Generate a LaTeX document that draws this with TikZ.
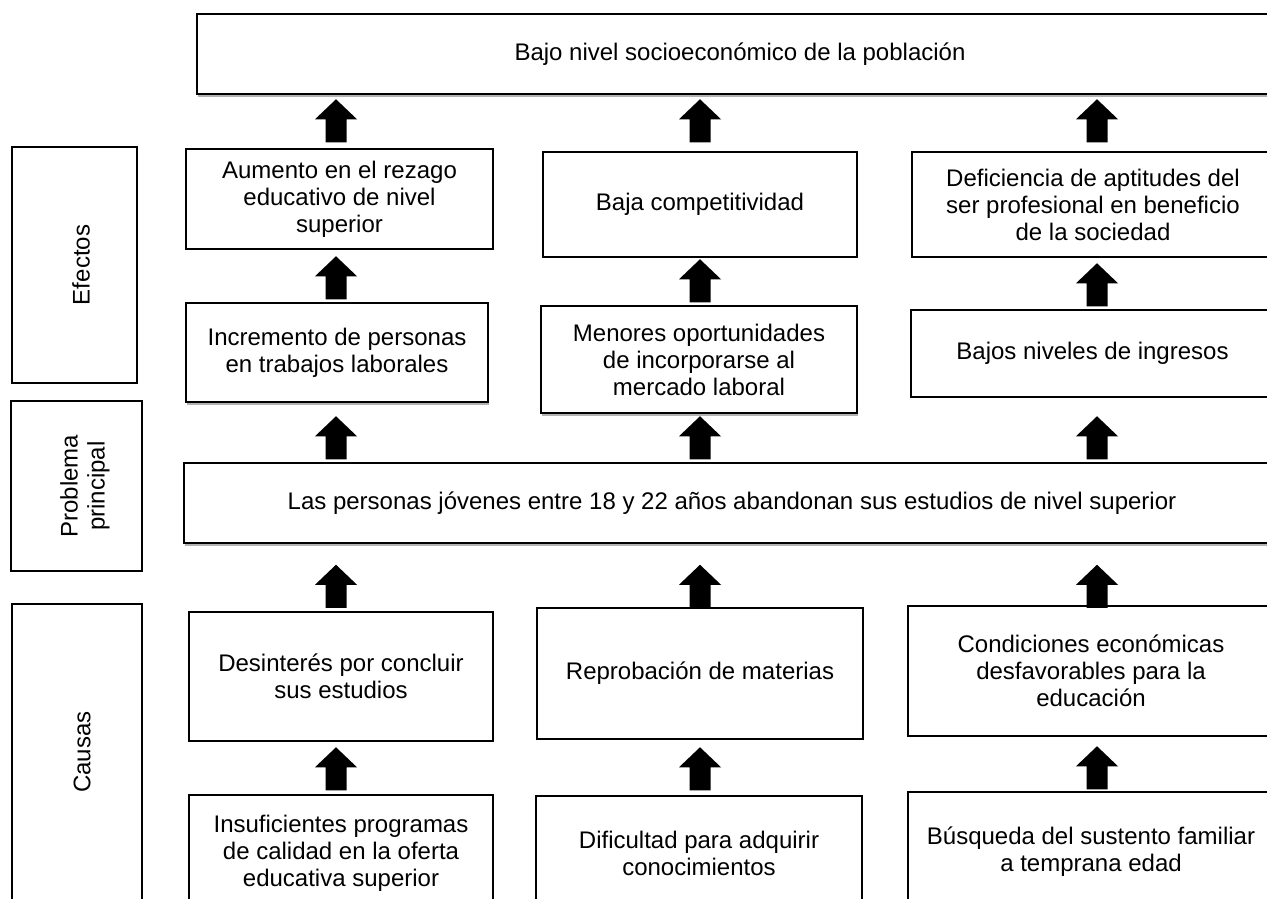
\documentclass[tikz,border=0pt]{standalone}
\usepackage{fontspec}
\setmainfont{Liberation Sans}
\usetikzlibrary{shadows}
\begin{document}
\begin{tikzpicture}[x=1pt,y=-1pt,
  txt/.style={align=center, inner sep=0pt, font=\fontsize{24}{27}\selectfont},
  box/.style={txt, draw, line width=1.5pt, fill=white},
  shad/.style={drop shadow={shadow xshift=1pt, shadow yshift=-3pt, opacity=0.3, fill=black}},
  side/.style={draw, line width=1.5pt, fill=white, inner sep=0pt},
  sidetext/.style={txt, rotate=90},
  blockarrow/.pic={\fill (-10.5pt,0pt) -- (-10.5pt,23pt) -- (-21pt,23pt) -- (0pt,43pt)
      -- (21pt,23pt) -- (10.5pt,23pt) -- (10.5pt,0pt) -- cycle;}]
\clip (0,0) rectangle (1267,899);
\fill[white] (0,0) rectangle (1267,899);
\coordinate (c1) at (336,0);
\coordinate (c2) at (700,0);
\coordinate (c3) at (1097,0);
% side labels
\node[side, minimum width=125pt, minimum height=236pt] (eff) at (74.5,265) {};
\node[sidetext] (efft) at (81,265) {Efectos};
\node[side, minimum width=131pt, minimum height=170pt] (prl) at (76.5,486) {};
\node[sidetext] (prlt) at (85,486) {Problema\\principal};
\node[side, minimum width=130pt, minimum height=300pt] (cau) at (77,754) {};
\node[sidetext] (caut) at (82,752) {Causas};
% top
\node[box, shad, minimum width=1086pt, minimum height=80pt] (top) at (740,54) {Bajo nivel socioeconómico de la población};
% effects
\node[box, minimum width=307pt, minimum height=100pt] (aum) at (339.5,199) {Aumento en el rezago\\educativo de nivel\\superior};
\node[box, minimum width=314pt, minimum height=105pt] (baja) at (700,204.5) {Baja competitividad};
\node[box, minimum width=362pt, minimum height=105pt] (def) at (1093,204.5) {Deficiencia de aptitudes del\\ser profesional en beneficio\\de la sociedad};
\node[box, shad, minimum width=302pt, minimum height=99pt] (inc) at (337,352.5) {Incremento de personas\\en trabajos laborales};
\node[box, shad, minimum width=316pt, minimum height=107pt] (men) at (699,359.5) {Menores oportunidades\\de incorporarse al\\mercado laboral};
\node[box, minimum width=363pt, minimum height=87pt] (baj) at (1092.5,353.5) {Bajos niveles de ingresos};
% main problem
\node[box, shad, minimum width=1096pt, minimum height=80pt] (main) at (732,503) {Las personas jóvenes entre 18 y 22 años abandonan sus estudios de nivel superior};
% causes
\node[box, minimum width=304pt, minimum height=129pt] (des) at (341,676.5) {Desinterés por concluir\\sus estudios};
\node[box, minimum width=326pt, minimum height=131pt] (rep) at (700,673.5) {Reprobación de materias};
\node[box, minimum width=366pt, minimum height=130pt] (con) at (1091,671) {Condiciones económicas\\desfavorables para la\\educación};
\node[box, minimum width=304pt, minimum height=117pt] (ins) at (341,853.5) {Insuficientes programas\\de calidad en la oferta\\educativa superior};
\node[box, minimum width=326pt, minimum height=114pt] (dif) at (699,853) {Dificultad para adquirir\\conocimientos};
\node[box, minimum width=366pt, minimum height=120pt] (bus) at (1091,852) {Búsqueda del sustento familiar\\a temprana edad};
% arrows
\pic at ([yshift=6pt]aum.north -| c1) {blockarrow};
\pic at ([yshift=9pt]baja.north -| c2) {blockarrow};
\pic at ([yshift=9pt]def.north -| c3) {blockarrow};
\pic at ([yshift=3pt]inc.north -| c1) {blockarrow};
\pic at ([yshift=3pt]men.north -| c2) {blockarrow};
\pic at ([yshift=3pt]baj.north -| c3) {blockarrow};
\pic at ([yshift=3pt]main.north -| c1) {blockarrow};
\pic at ([yshift=3pt]main.north -| c2) {blockarrow};
\pic at ([yshift=3pt]main.north -| c3) {blockarrow};
\pic at ([yshift=-64pt]main.south -| c1) {blockarrow};
\pic at ([yshift=-64pt]main.south -| c2) {blockarrow};
\pic at ([yshift=-64pt]main.south -| c3) {blockarrow};
\pic at ([yshift=4pt]ins.north -| c1) {blockarrow};
\pic at ([yshift=5pt]dif.north -| c2) {blockarrow};
\pic at ([yshift=2pt]bus.north -| c3) {blockarrow};
\end{tikzpicture}
\end{document}
